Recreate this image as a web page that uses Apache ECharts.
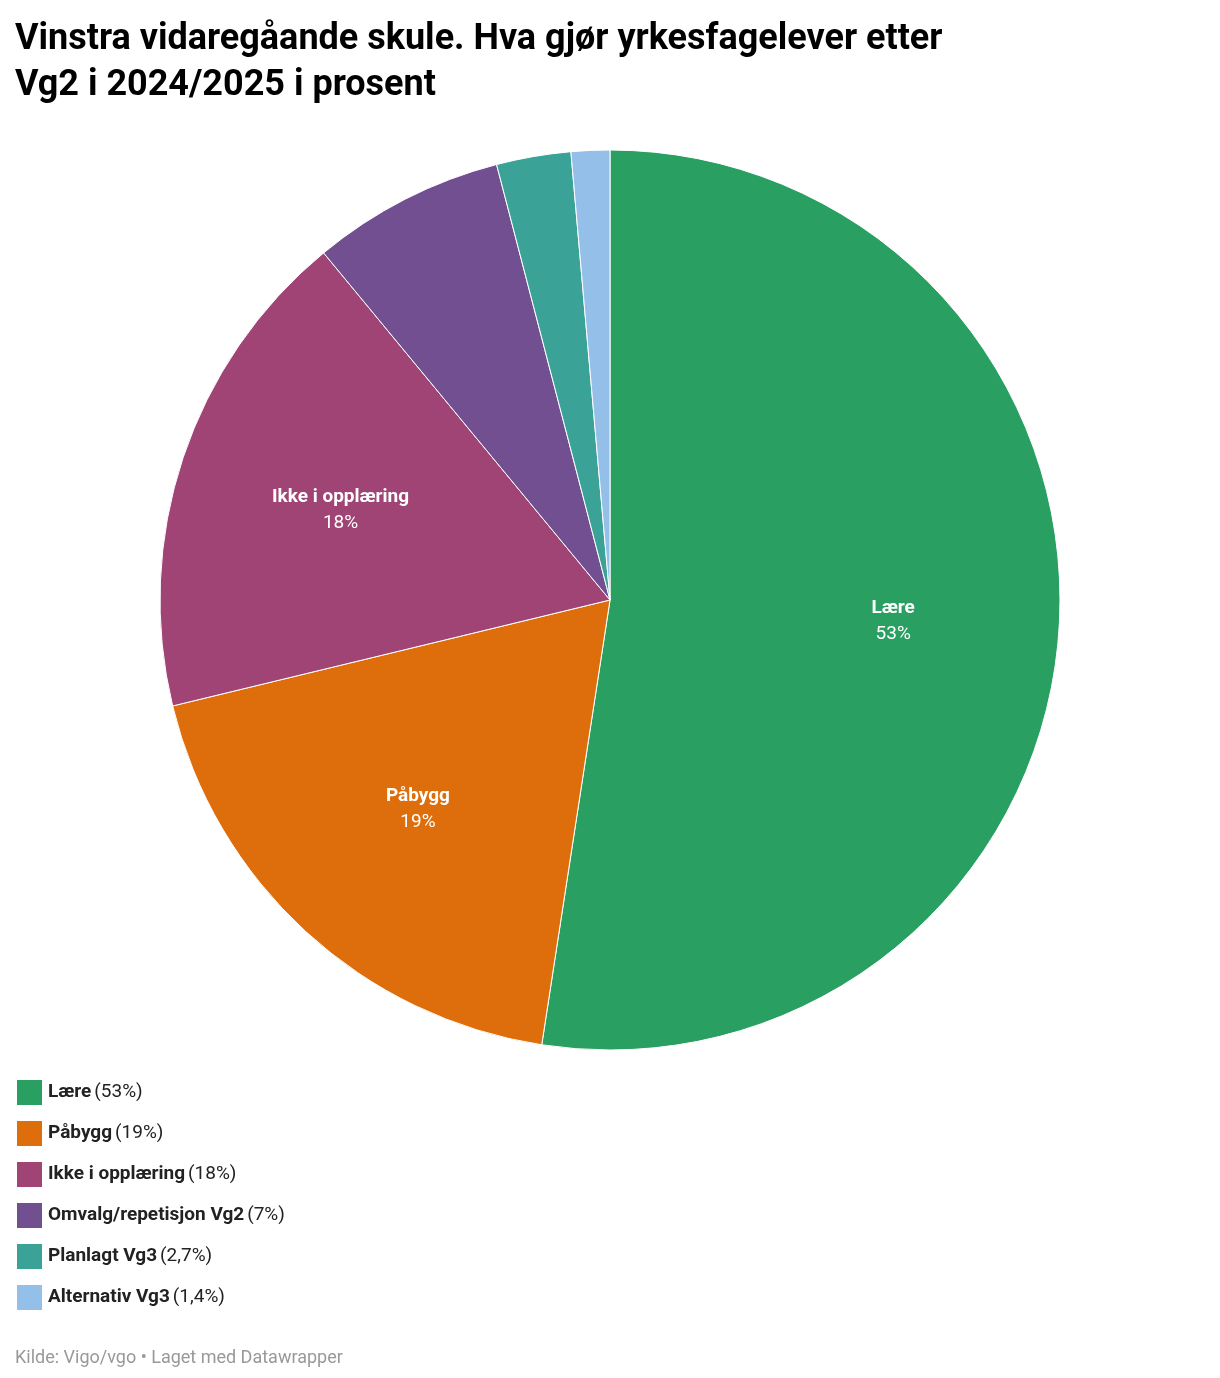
<!DOCTYPE html><html><head><meta charset="utf-8"><script src="https://cdn.jsdelivr.net/npm/echarts@6/dist/echarts.min.js"></script>
<style>html,body{margin:0;background:#fff}#c{width:1220px;height:1378px}</style></head><body><div id="c"></div><script>
const categories=["Lære","Påbygg","Ikke i opplæring","Omvalg/repetisjon Vg2","Planlagt Vg3","Alternativ Vg3"];
const values=[53,19,18,7,2.7,1.4];
const valueLabels=["53%","19%","18%","7%","2,7%","1,4%"];
const colors=["#2a9f62","#dd6e0b","#a04375","#714f91","#3aa297","#93bfe8"];
const labeled=[true,true,true,false,false,false];
const data=categories.map((n,i)=>({name:n,value:values[i],itemStyle:{color:colors[i]}}));
const chart=echarts.init(document.getElementById('c'));
chart.setOption({
 animation:false,textStyle:{fontFamily:'Roboto'},
 title:[{text:'Vinstra vidaregåande skule. Hva gjør yrkesfagelever etter\nVg2 i 2024/2025 i prosent',left:10,top:12,textStyle:{fontSize:36,fontWeight:'bold',color:'#000',lineHeight:46}},
  {text:'Kilde: Vigo/vgo • Laget med Datawrapper',left:10,top:1344,textStyle:{fontSize:18,fontWeight:'normal',color:'#999'}}],
 legend:{orient:'vertical',left:10,top:1073,itemWidth:27,itemHeight:27,itemGap:12,icon:'rect',
  data:categories,
  formatter:n=>'{b|'+n+'} {n|('+valueLabels[categories.indexOf(n)]+')}',
  textStyle:{rich:{b:{fontSize:19,fontWeight:'bold',color:'#222'},n:{fontSize:19,color:'#222'}}}},
 series:[
  {type:'pie',center:[610,600],radius:[0,450],startAngle:90,clockwise:true,data:data,
   itemStyle:{borderColor:'#fff',borderWidth:1},label:{show:false},labelLine:{show:false},emphasis:{disabled:true}},
  {type:'pie',center:[610,600],radius:[0,562],startAngle:90,clockwise:true,silent:true,z:5,
   data:categories.map((n,i)=>({name:n,value:values[i],itemStyle:{color:'rgba(0,0,0,0)'},
     label:{show:labeled[i],position:'inside',formatter:'{b|'+n+'}\n{p|'+valueLabels[i]+'}',
       rich:{b:{fontSize:19,fontWeight:'bold',color:'#fff',lineHeight:26},p:{fontSize:19,color:'#fff',lineHeight:26}}}})),
   labelLine:{show:false},emphasis:{disabled:true},legendHoverLink:false}
 ]
});
</script></body></html>
